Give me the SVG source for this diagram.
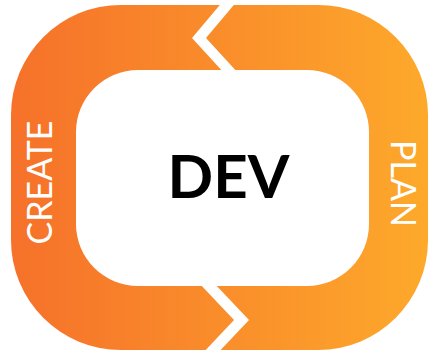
<svg xmlns="http://www.w3.org/2000/svg" width="431" height="351" viewBox="0 0 431 351">
  <defs>
    <linearGradient id="ringGrad" x1="11" y1="0" x2="428" y2="0" gradientUnits="userSpaceOnUse">
      <stop offset="0" stop-color="#F6712A"/>
      <stop offset="1" stop-color="#FDA92B"/>
    </linearGradient>
    <style>
      .side { font-family: Lato, "Open Sans", "Liberation Sans", sans-serif; font-weight: 400; font-size: 34px; fill: #ffffff; text-anchor: middle; }
      .center { font-family: Lato, "Open Sans", "Liberation Sans", sans-serif; font-weight: 700; font-size: 60px; fill: #000000; text-anchor: middle; }
      .gap { fill: #ffffff; }
    </style>
  </defs>
  <rect width="431" height="351" fill="#ffffff"/>
  <g id="ring">
    <rect x="11" y="5" width="417" height="345" rx="110" ry="110" fill="url(#ringGrad)"/>
    <polygon class="gap" points="224,0 238,0 206,38 239,74 225,74 192,38"/>
    <polygon class="gap" points="198,282 213,282 249,320 215,356 200,356 234,320"/>
  </g>
  <g id="dev">
    <rect x="76" y="70" width="293" height="216" rx="62" ry="62" fill="#ffffff"/>
    <text class="center" x="228.5" y="197.5">DEV</text>
  </g>
  <g id="create">
    <text class="side" transform="translate(52,182.5) rotate(-90)" x="0" y="0">CREATE</text>
  </g>
  <g id="plan">
    <text class="side" transform="translate(391,183.5) rotate(90)" x="0" y="0">PLAN</text>
  </g>
</svg>
